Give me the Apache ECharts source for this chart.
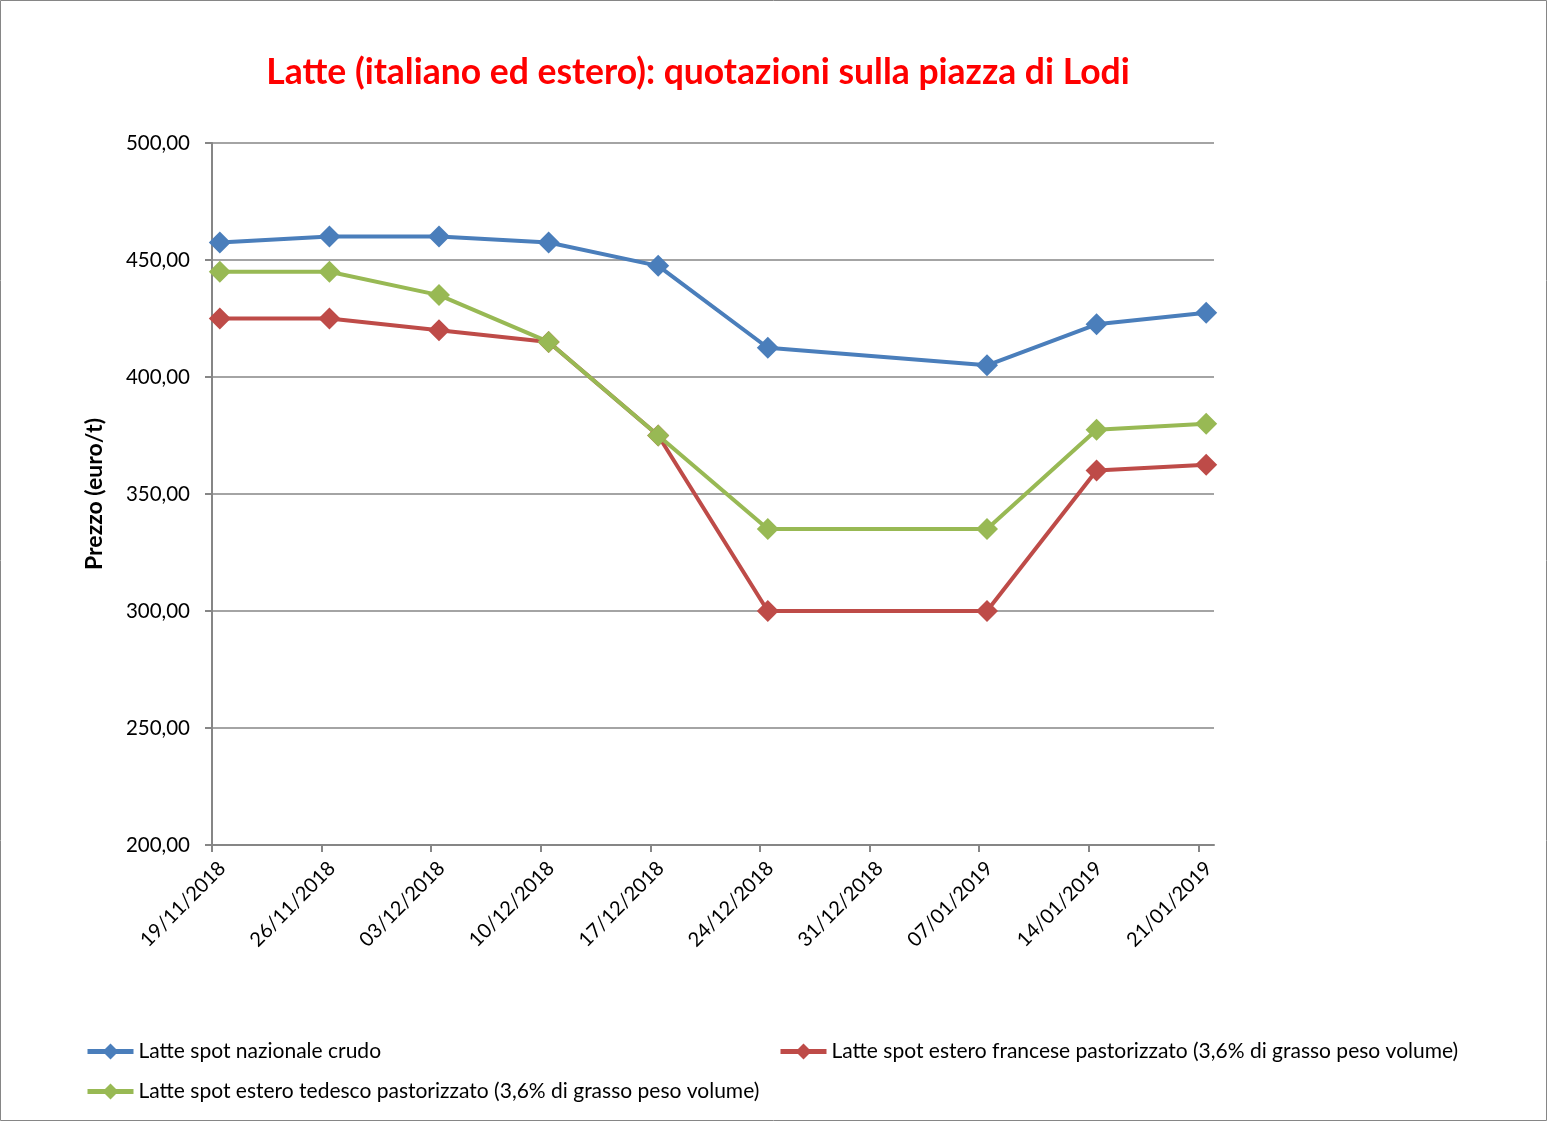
<!DOCTYPE html>
<html>
<head>
<meta charset="utf-8">
<script src="https://cdn.jsdelivr.net/npm/echarts@6/dist/echarts.min.js"></script>
<style>
html,body{margin:0;padding:0;background:#fff;}
#chart{width:1548px;height:1122px;}
</style>
</head>
<body>
<div id="chart"></div>
<script>
const dates = ["19/11/2018","26/11/2018","03/12/2018","10/12/2018","17/12/2018","24/12/2018","31/12/2018","07/01/2019","14/01/2019","21/01/2019"];
const nazionale = [457.5, 460, 460, 457.5, 447.5, 412.5, null, 405, 422.5, 427.5];
const francese  = [425, 425, 420, 415, 375, 300, null, 300, 360, 362.5];
const tedesco   = [445, 445, 435, 415, 375, 335, null, 335, 377.5, 380];
const seriesNames = [
  "Latte spot nazionale crudo",
  "Latte spot estero francese pastorizzato (3,6% di grasso peso volume)",
  "Latte spot estero tedesco pastorizzato (3,6% di grasso peso volume)"
];
const colors = ["#4a7ebb", "#be4b48", "#98b954"];

function parseDate(s){ const p = s.split('/'); return Date.UTC(+p[2], +p[1]-1, +p[0]); }
const DAY = 86400000;
const t0 = parseDate(dates[0]);
const dayIdx = dates.map(d => Math.round((parseDate(d) - t0)/DAY));
const lastDay = dayIdx[dayIdx.length-1] + 1;
const labelOf = {};
dayIdx.forEach((d,i)=>{ labelOf[d] = dates[i]; });
const LABEL_SHIFT = 0.65;
const labelVals = dayIdx.map(d => d + LABEL_SHIFT);

function mk(vals){ return vals.map((v,i)=>[dayIdx[i]+0.5, v]); }

const FONT = "Lato, 'Open Sans', sans-serif";
const chart = echarts.init(document.getElementById('chart'));
const legendPos = [[85,1041],[778,1041],[85,1081]];
chart.setOption({
  backgroundColor:'#fff',
  animation:false,
  title:{text:"Latte (italiano ed estero): quotazioni sulla piazza di Lodi", left:693, textAlign:'center', top:50,
    textStyle:{color:'#ff0000', fontSize:35.5, fontWeight:'bold', fontFamily:FONT}},
  graphic:[{type:'rect', shape:{x:0.5,y:0.5,width:1546,height:1120}, style:{fill:'none', stroke:'#868686', lineWidth:1}}],
  legend: seriesNames.map((n,i)=>({
    data:[n], left:legendPos[i][0], top:legendPos[i][1], padding:0, itemWidth:46, itemHeight:20, itemGap:6,
    lineStyle:{width:5},
    textStyle:{fontSize:21, color:'#000', fontFamily:FONT}, selectedMode:false
  })),
  grid:{left:212, right:1548-1214, top:143, bottom:1122-845},
  xAxis:{type:'value', min:0, max:lastDay,
    axisLine:{show:true, lineStyle:{color:'#868686', width:2}},
    axisTick:{show:true, length:7, lineStyle:{color:'#868686', width:2}, customValues:dayIdx},
    axisLabel:{customValues:labelVals, rotate:45, margin:20, fontSize:20, color:'#000', fontFamily:FONT,
      formatter:v=>labelOf[Math.round(v - LABEL_SHIFT)]||''},
    splitLine:{show:false}},
  yAxis:{type:'value', min:200, max:500, interval:50,
    name:"Prezzo (euro/t)", nameLocation:'middle', nameRotate:90, nameGap:106,
    nameTextStyle:{fontSize:23, fontWeight:'bold', color:'#000', fontFamily:FONT},
    axisLine:{show:true, lineStyle:{color:'#868686', width:2}},
    axisTick:{show:true, length:7, lineStyle:{color:'#868686', width:2}},
    axisLabel:{margin:22, fontSize:20.5, color:'#000', fontFamily:FONT, formatter:v=>v.toFixed(2).replace('.',',')},
    splitLine:{show:true, lineStyle:{color:'#868686', width:1.5}}},
  series:[nazionale, francese, tedesco].map((vals,i)=>({
    name:seriesNames[i], type:'line', data:mk(vals), connectNulls:true,
    symbol:'diamond', symbolSize:22, color:colors[i],
    lineStyle:{width:4, color:colors[i]}, itemStyle:{color:colors[i]}
  }))
});
</script>
</body>
</html>
